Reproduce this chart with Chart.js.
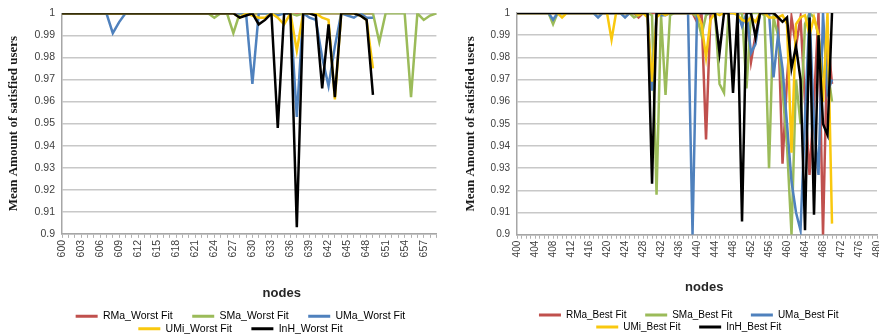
<!DOCTYPE html>
<html>
<head>
<meta charset="utf-8">
<script src="https://cdn.jsdelivr.net/npm/chart.js@4.4.0/dist/chart.umd.min.js"></script>
<style>
  html, body { margin: 0; padding: 0; background: #fff; overflow: hidden; }
  body { width: 879px; height: 336px; position: relative; }
  .panel { position: absolute; top: 0; height: 336px; }
  #leftPanel { left: 0; width: 451px; }
  #rightPanel { left: 440px; width: 451px; }
</style>
</head>
<body>
<div class="panel" id="leftPanel"><canvas id="worstChart"></canvas></div>
<div class="panel" id="rightPanel"><canvas id="bestChart"></canvas></div>
<script>
// x categories (node ids)
const worstNodes = [600,601,602,603,604,605,606,607,608,609,610,611,612,613,614,615,616,617,618,619,
  620,621,622,623,624,625,626,627,628,629,630,631,632,633,634,635,636,637,638,639,
  640,641,642,643,644,645,646,647,648,649,650,651,652,653,654,655,656,657,658,659];
const bestNodes = [400,401,402,403,404,405,406,407,408,409,410,411,412,413,414,415,416,417,418,419,
  420,421,422,423,424,425,426,427,428,429,430,431,432,433,434,435,436,437,438,439,
  440,441,442,443,444,445,446,447,448,449,450,451,452,453,454,455,456,457,458,459,
  460,461,462,463,464,465,466,467,468,469,470,471,472,473,474,475,476,477,478,479,480];

// Worst Fit series (nodes 600..)
const rmaWorst = [1,1,1,1,1,1,1,1,1,1, 1,1,1,1,1,1,1,1,1,1, 1,1,1,1,1,1,1,1,1,1,
  1,1,1,1,1,1,1,1,1,1, 1,1,1,1,1,1,1,1,1,1];
const smaWorst = [1,1,1,1,1,1,1,1,1,1, 1,1,1,1,1,1,1,1,1,1,
  1,1,1,1,0.998,1,1,0.991,1,1, 1,1,1,1,1,1,1,0.999,1,1,
  1,1,1,1,1,1,1,1,1,1, 0.987,1,1,1,1,0.962,1,0.997,0.999,1];
const umaWorst = [1,1,1,1,1,1,1,1,0.991,0.996, 1,1,1,1,1,1,1,1,1,1, 1,1,1,1,1,1,1,1,1,1,
  0.968,1,1,1,0.999,1,1,0.953,1,0.998, 0.997,0.98,0.967,0.985,1,0.999,0.998,1,0.998,0.998];
const umiWorst = [1,1,1,1,1,1,1,1,1,1, 1,1,1,1,1,1,1,1,1,1, 1,1,1,1,1,1,1,1,0.998,1,
  0.999,0.998,0.998,1,0.998,0.995,1,0.983,1,1, 1,0.998,0.997,0.961,1,1,1,0.999,0.997,0.975];
const inhWorst = [1,1,1,1,1,1,1,1,1,1, 1,1,1,1,1,1,1,1,1,1, 1,1,1,1,1,1,1,1,0.998,0.999,
  1,0.995,0.997,1,0.948,1,1,0.903,1,1, 0.999,0.966,0.995,0.962,1,1,1,0.999,0.997,0.963];

// Best Fit series (nodes 400..)
const rmaBest = [1,1,1,1,1,1,1,1,1,1, 1,1,1,1,1,1,1,1,1,1, 1,1,1,1,1,1,1,0.998,1,1,
  1,1,1,1,1,1,1,1,1,1, 0.996,1,0.943,1,1,1,1,1,1,1,
  1,1,0.978,0.99,1,1,1,1,0.998,0.932, 0.97,0.998,0.985,0.998,0.96,0.927,0.96,1,0.9,0.99, 0.968];
const smaBest = [1,1,1,1,1,1,1,1,0.995,1, 1,1,1,1,1,1,1,1,1,1, 1,1,1,1,1,1,0.998,0.999,1,1,
  0.999,0.918,0.999,0.963,0.999,1,1,1,1,1, 0.998,0.99,0.999,1,1,0.968,0.964,1,1,1,
  1,0.966,1,1,1,0.999,0.93,0.998,0.99,0.965, 0.94,0.9,0.97,0.95,0.995,1,0.998,0.99,0.972,0.975, 0.96];
const umaBest = [1,1,1,1,1,1,1,1,0.997,1, 1,1,1,1,1,1,1,1,0.998,1, 1,1,1,1,0.998,1,1,1,1,1,
  0.965,1,0.999,0.999,1,1,1,1,1,0.9, 1,1,1,1,1,1,1,1,1,1,
  0.994,1,0.982,0.986,1,1,1,0.971,0.99,0.975, 0.95,0.924,0.91,0.902,0.953,1,0.95,0.927,1,0.964, 0.97];
const umiBest = [1,1,1,1,1,1,1,1,1,1, 0.998,1,1,1,1,1,1,1,1,1, 1,0.988,1,1,1,1,1,0.999,1,0.998,
  0.969,0.998,1,0.999,1,1,1,1,1,1, 1,0.995,0.98,0.997,1,0.999,1,1,1,0.999,
  0.997,0.996,0.998,0.996,1,1,0.998,0.998,0.998,0.999, 0.995,0.937,0.995,0.998,0.999,0.99,0.998,0.99,0.96,1, 0.905];
const inhBest = [1,1,1,1,1,1,1,1,1,1, 1,1,1,1,1,1,1,1,1,1, 1,1,1,1,1,1,1,1,1,1,
  0.923,1,1,1,1,1,1,1,1,1, 1,1,1,1,1,0.982,1,1,0.964,1,
  0.906,1,1,0.989,1,1,1,1,0.998,0.996, 0.998,0.975,0.985,0.97,0.902,0.998,0.909,0.99,0.95,0.945, 1];

const colors = ['#c0504d', '#9bbb59', '#4f81bd', '#f9c80e', '#000000'];
const yTitle = 'Mean Amount of satisfied users';

function line(label, data, i) {
    return {
        label: label,
        data: data,
        borderColor: colors[i],
        backgroundColor: colors[i],
        borderWidth: 2.5,
        pointRadius: 0,
        tension: 0,
        fill: false,
        order: 4 - i   // later series on top, like the original
    };
}

function legendLabels(chart) {
    return chart.data.datasets.map((ds, i) => ({
        text: ds.label + '      ',
        fillStyle: ds.borderColor,
        strokeStyle: ds.borderColor,
        lineWidth: 0,
        hidden: false,
        datasetIndex: i
    }));
}

// lay: layout padding, yPad: y title padding, xPad: x title padding
function makeChart(id, nodes, every, datasets, xTitle, lay, yPad, xPad, fs) {
    new Chart(document.getElementById(id), {
        type: 'line',
        data: { labels: nodes.map(String), datasets: datasets },
        options: {
            responsive: true,
            maintainAspectRatio: false,
            animation: false,
            layout: { padding: lay },
            plugins: {
                tooltip: { enabled: false },
                legend: {
                    position: 'bottom',
                    fullSize: false,
                    labels: {
                        boxWidth: 22, boxHeight: 3, padding: 2,
                        color: '#404040',
                        font: { family: 'Liberation Sans', size: fs },
                        generateLabels: legendLabels
                    }
                }
            },
            scales: {
                x: {
                    offset: false,
                    grid: { drawOnChartArea: false, drawTicks: true, tickLength: 4, color: '#b0b0b0', offset: false },
                    border: { color: '#a6a6a6', width: 1.5 },
                    ticks: {
                        autoSkip: false, minRotation: 90, maxRotation: 90, padding: 2,
                        color: '#404040',
                        font: { family: 'Liberation Sans', size: fs },
                        callback: function(v, i) { return i % every === 0 ? this.getLabelForValue(v) : ''; }
                    },
                    title: {
                        display: true, text: xTitle, color: '#262626',
                        font: { family: 'Liberation Sans', size: 13, weight: 'bold' },
                        padding: xPad
                    }
                },
                y: {
                    min: 0.9, max: 1,
                    grid: { color: '#c8c8c8', lineWidth: 1.5, drawTicks: false },
                    border: { color: '#a6a6a6', width: 1.5 },
                    ticks: {
                        stepSize: 0.01, padding: 7, color: '#404040',
                        font: { family: 'Liberation Sans', size: fs },
                        callback: v => String(Number(v.toFixed(2)))
                    },
                    title: {
                        display: true, text: yTitle, color: '#1a1a1a',
                        font: { family: 'Liberation Serif', size: 13, weight: 'bold' },
                        padding: yPad
                    }
                }
            }
        }
    });
}

// leading spaces nudge the axis title right, as in the original
makeChart('worstChart', worstNodes, 3, [
    line('RMa_Worst Fit', rmaWorst, 0),
    line('SMa_Worst Fit', smaWorst, 1),
    line('UMa_Worst Fit', umaWorst, 2),
    line('UMi_Worst Fit', umiWorst, 3),
    line('InH_Worst Fit', inhWorst, 4)
], '                  nodes', { left: 6, right: 5, top: 6, bottom: -8 }, { top: 0, bottom: 6 }, { top: 26, bottom: 8 }, 10.5);

makeChart('bestChart', bestNodes, 4, [
    line('RMa_Best Fit', rmaBest, 0),
    line('SMa_Best Fit', smaBest, 1),
    line('UMa_Best Fit', umaBest, 2),
    line('UMi_Best Fit', umiBest, 3),
    line('InH_Best Fit', inhBest, 4)
], '    nodes', { left: 23, right: 4, top: 2, bottom: -6 }, { top: 0, bottom: 5 }, { top: 20, bottom: 13 }, 10);
</script>
</body>
</html>
